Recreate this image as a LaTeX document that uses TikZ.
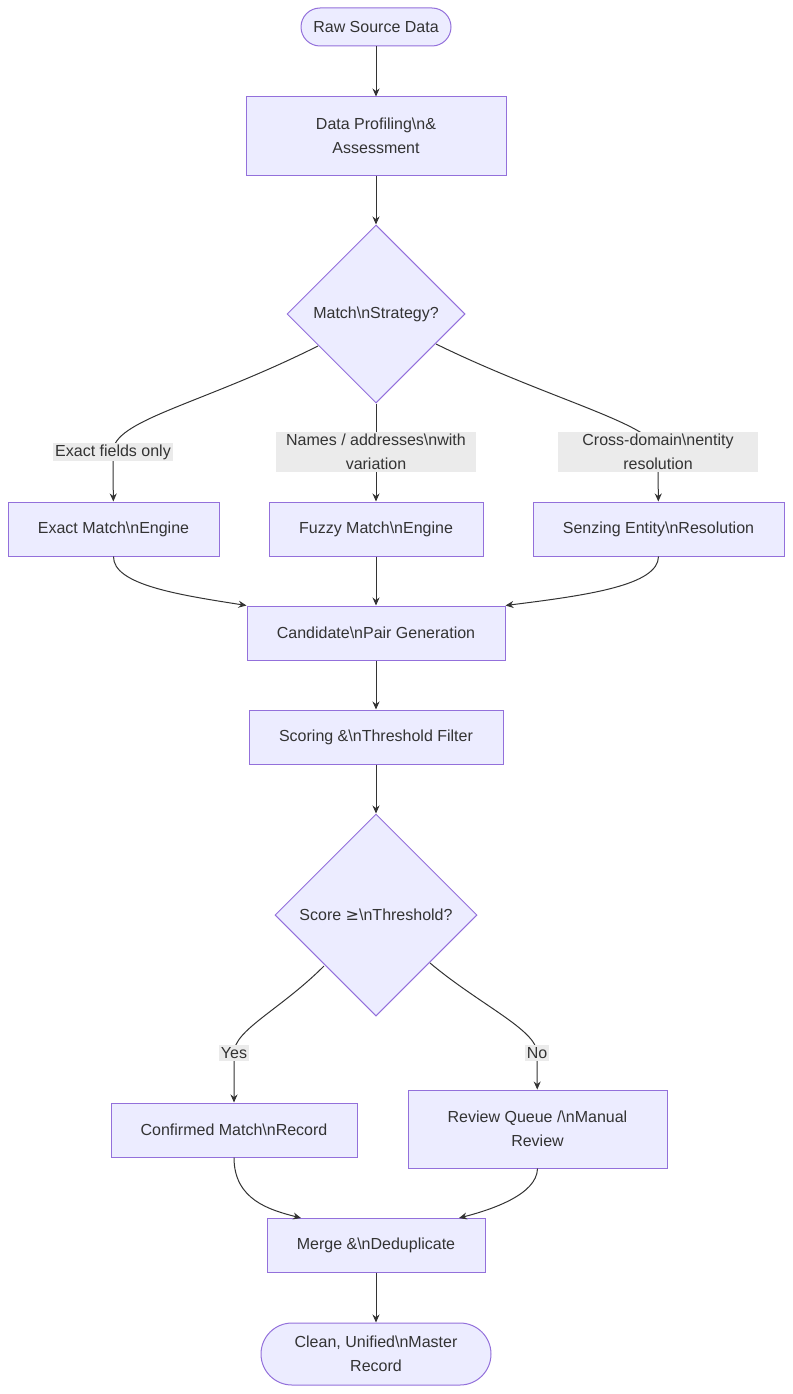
\documentclass[tikz,border=0pt]{standalone}
\usepackage{fontspec}
\setmainfont{Liberation Sans}
\newfontfamily\symfont{DejaVu Sans}
\usetikzlibrary{shapes.geometric,arrows.meta}
\definecolor{nfill}{HTML}{ECECFF}
\definecolor{nstroke}{HTML}{9370DB}
\definecolor{ink}{HTML}{333333}
\definecolor{lbg}{HTML}{EBEBEB}
\begin{document}
\begin{tikzpicture}[x=1pt,y=-1pt,
  every node/.style={font=\fontsize{16}{24}\selectfont, text=ink},
  box/.style={draw=nstroke, fill=nfill, line width=1pt, inner sep=0pt, align=center},
  term/.style={box, rounded corners=19pt},
  dia/.style={box, diamond, aspect=1},
  lab/.style={fill=lbg, inner sep=2pt, align=center},
  edge/.style={draw=ink, line width=1pt, -{Stealth[length=8pt,width=7pt]}}]
\useasboundingbox (0,0) rectangle (792,1394);
% nodes
\node[term, minimum width=150, minimum height=38] (raw) at (376,27) {Raw Source Data};
\node[box, minimum width=260, minimum height=78] (prof) at (376,136) {Data Profiling\textbackslash n\&\\Assessment};
\node[dia, minimum width=178, minimum height=178] (d1) at (376,314) {Match\textbackslash nStrategy?};
\node[box, minimum width=211, minimum height=54] (ex) at (113.5,529) {Exact Match\textbackslash nEngine};
\node[box, minimum width=214, minimum height=54] (fz) at (376,529) {Fuzzy Match\textbackslash nEngine};
\node[box, minimum width=251, minimum height=54] (sz) at (658.5,529) {Senzing Entity\textbackslash nResolution};
\node[box, minimum width=258, minimum height=54] (cand) at (376,633) {Candidate\textbackslash nPair Generation};
\node[box, minimum width=254, minimum height=54] (score) at (376,737) {Scoring \&\textbackslash nThreshold Filter};
\node[dia, minimum width=202, minimum height=202] (d2) at (376,915) {Score {\symfont ≥}\textbackslash nThreshold?};
\node[box, minimum width=246, minimum height=54] (conf) at (234,1130) {Confirmed Match\textbackslash nRecord};
\node[box, minimum width=259, minimum height=78] (rev) at (537.5,1129) {Review Queue /\textbackslash nManual\\Review};
\node[box, minimum width=218, minimum height=54] (mer) at (376,1245) {Merge \&\textbackslash nDeduplicate};
\node[term, rounded corners=31pt, minimum width=230, minimum height=62] (cl) at (376,1354) {Clean, Unified\textbackslash nMaster\\Record};
% label anchors
\coordinate (l1) at (113,452);
\coordinate (l2) at (376,452);
\coordinate (l3) at (658,452);
\coordinate (l4) at (234,1053);
\coordinate (l5) at (537,1053);
% edges
\draw[edge] (raw) -- (prof);
\draw[edge] (prof) -- (d1);
\draw[edge] (318,346) .. controls (200,405) and (113,420) .. (l1) -- (ex);
\draw[edge] (d1) -- (fz);
\draw[edge] (436,344) .. controls (550,400) and (658,425) .. (l3) -- (sz);
\draw[edge] (ex.south) .. controls (113,585) and (180,595) .. (cand.north west);
\draw[edge] (fz) -- (cand);
\draw[edge] (sz.south) .. controls (658,585) and (590,595) .. (cand.north east);
\draw[edge] (cand) -- (score);
\draw[edge] (score) -- (d2);
\draw[edge] (324,966) .. controls (280,1010) and (234,1030) .. (l4) -- (conf);
\draw[edge] (430,963) .. controls (480,1005) and (537,1030) .. (l5) -- (rev);
\draw[edge] (conf.south) .. controls (234,1200) and (270,1210) .. (301,1218);
\draw[edge] (rev.south) .. controls (537,1195) and (490,1210) .. (459,1218);
\draw[edge] (mer) -- (cl);
% labels
\node[lab] at (l1) {Exact fields only};
\node[lab, minimum width=200] at (l2) {Names / addresses\textbackslash nwith\\variation};
\node[lab, minimum width=200] at (l3) {Cross-domain\textbackslash nentity\\resolution};
\node[lab] at (l4) {Yes};
\node[lab] at (l5) {No};
\end{tikzpicture}
\end{document}
